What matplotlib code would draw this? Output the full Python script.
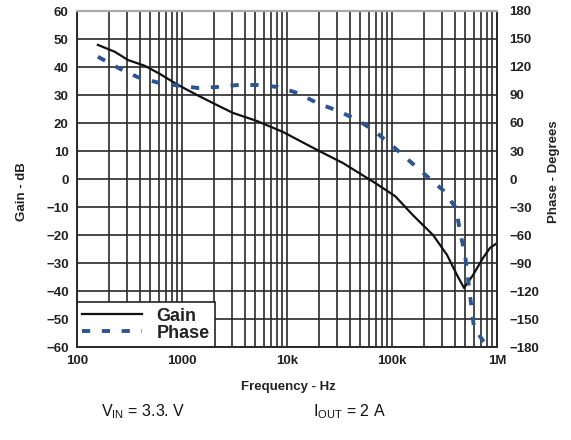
import matplotlib
matplotlib.use("Agg")
import matplotlib.pyplot as plt
import numpy as np
from matplotlib.ticker import FixedLocator, LogLocator, NullFormatter

plt.rcParams['font.family'] = ['Liberation Sans', 'DejaVu Sans']
plt.rcParams['mathtext.fontset'] = 'custom'
plt.rcParams['mathtext.rm'] = 'Liberation Sans'
plt.rcParams['axes.unicode_minus'] = True

# ---- data ----
gain_freq = [158, 230, 306, 444, 617, 916, 1390, 2155, 3060, 5180, 9160,
             19300, 34100, 68900, 107000, 158000, 246000, 334000, 416000,
             485000, 591000, 736000, 858000, 1000000]
gain_db = [47.9, 45.4, 42.5, 40.4, 37.5, 33.6, 30.0, 26.4, 23.6, 20.7, 16.8,
           10.4, 5.7, -1.4, -6.1, -12.9, -20.0, -27.1, -34.3,
           -38.9, -34.3, -28.2, -24.6, -22.9]

phase_freq = [158, 257, 381, 604, 936, 1420, 2200, 3410, 5290, 8200, 12700,
              19700, 30600, 47400, 68900, 102000, 148000, 215000, 306000,
              407000, 445000, 496000, 530000, 565000, 604000, 785000]
phase_deg = [131, 118, 109, 103, 100, 97.5, 98.6, 100.7, 100.7, 98.6, 92,
             81, 73, 63, 51, 35, 19, 3, -12,
             -31, -57, -81, -107, -133, -159, -178]

x_ticks = [100, 1000, 10000, 100000, 1000000]
x_tick_labels = ['100', '1000', '10k', '100k', '1M']
gain_ticks = list(range(-60, 61, 10))
phase_ticks = list(range(-180, 181, 30))

W, H = 571, 440
fig = plt.figure(figsize=(W / 100, H / 100), dpi=100)
ax = fig.add_axes([77 / W, 1 - 347 / H, 420 / W, 336 / H])
ax2 = ax.twinx()

grid_col = '#2a2a2a'
ax.set_xscale('log')
ax.set_xlim(100, 1e6)
ax.set_ylim(-60, 60)
ax2.set_ylim(-180, 180)

ax.xaxis.set_major_locator(FixedLocator(x_ticks))
ax.set_xticklabels(x_tick_labels)
ax.xaxis.set_minor_locator(LogLocator(base=10, subs=np.arange(2, 10)))
ax.xaxis.set_minor_formatter(NullFormatter())
ax.set_yticks(gain_ticks)
ax.set_yticklabels([str(v).replace('-', '\u2212') for v in gain_ticks])
ax2.set_yticks(phase_ticks)
ax2.set_yticklabels([str(v).replace('-', '\u2212') for v in phase_ticks])

ax.grid(True, which='major', axis='both', color=grid_col, lw=1.2)
ax.grid(True, which='minor', axis='x', color=grid_col, lw=1.2)
ax.set_axisbelow(True)

for a in (ax, ax2):
    a.tick_params(which='both', length=0)
    for s in a.spines.values():
        s.set_color(grid_col)
        s.set_linewidth(1.2)
ax2.spines['top'].set_color('#aaaaaa')
ax2.spines['top'].set_linewidth(1.6)

ax.tick_params(axis='x', labelsize=9.5, pad=6)
ax.tick_params(axis='y', labelsize=9.5, pad=6)
ax2.tick_params(axis='y', labelsize=9.5, pad=9)
for lab in ax.get_xticklabels() + ax.get_yticklabels() + ax2.get_yticklabels():
    lab.set_fontweight('bold')
    lab.set_color('#222222')

l1, = ax.plot(gain_freq, gain_db, color='#111111', lw=1.6, label='Gain', zorder=4)
l2, = ax2.plot(phase_freq, phase_deg, color='#2b5494', lw=2.8, dashes=(2.1, 3.0),
               label='Phase', zorder=4)

leg = ax.legend([l1, l2], ['Gain', 'Phase'], loc='lower left', borderaxespad=0,
                fancybox=False, framealpha=1, edgecolor='#222222',
                prop={'weight': 'bold', 'size': 13}, handlelength=3.3,
                handletextpad=0.8, labelspacing=0.0, borderpad=0.3)
leg.get_frame().set_linewidth(1.2)
leg.set_zorder(10)
for t in leg.get_texts():
    t.set_color('#222222')

fig.text(22 / W, 1 - 192 / H, 'Gain - dB', rotation=90, ha='center', va='center',
         fontsize=9.5, fontweight='bold', color='#222222')
fig.text(554 / W, 1 - 172 / H, 'Phase - Degrees', rotation=90, ha='center', va='center',
         fontsize=9.5, fontweight='bold', color='#222222')
fig.text(288 / W, 1 - 387 / H, 'Frequency - Hz', ha='center', va='center',
         fontsize=9.5, fontweight='bold', color='#222222')
fig.text(101 / W, 1 - 416 / H, r'$\mathregular{V_{IN}}$ = 3.3. V', ha='left', va='baseline',
         fontsize=11.5, color='#111111')
fig.text(313 / W, 1 - 416 / H, r'$\mathregular{I_{OUT}}$ = 2 A', ha='left', va='baseline',
         fontsize=11.5, color='#111111')

fig.savefig('out.png', dpi=100)
